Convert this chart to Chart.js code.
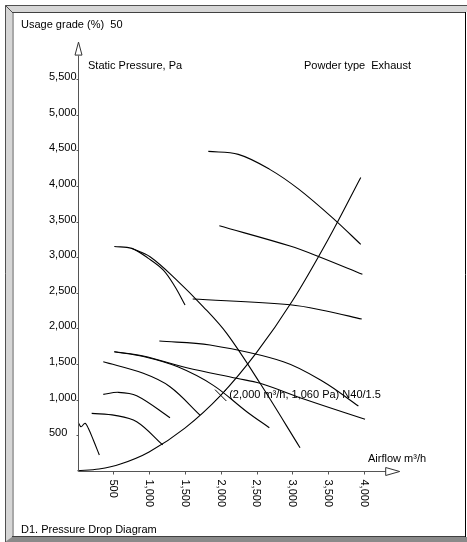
<!DOCTYPE html>
<html>
<head>
<meta charset="utf-8">
<script src="https://cdn.jsdelivr.net/npm/chart.js@4/dist/chart.umd.min.js"></script>
<style>
  html, body { margin: 0; padding: 0; background: #fff; overflow: hidden; }
  canvas { display: block; }
</style>
</head>
<body>
<canvas id="chart" width="467" height="542"></canvas>
<script>
// TICKS
const xTicks = [500, 1000, 1500, 2000, 2500, 3000, 3500, 4000];
const yTicks = [500, 1000, 1500, 2000, 2500, 3000, 3500, 4000, 4500, 5000, 5500];

// FAN CURVES  [airflow m3/h, static pressure Pa]
const curveA = [[1827, 4486], [2246, 4444], [2679, 4237], [3094, 3952], [3597, 3521], [3956, 3180]];
const curveB = [[1981, 3441], [2969, 3156], [3374, 3006], [3979, 2759]];
const curveC = [[1609, 2412], [2969, 2332], [3458, 2248], [3970, 2131]];
const curveD = [[1143, 1822], [1851, 1766], [2875, 1532], [3434, 1251], [3923, 910]];
const curveE = [[514, 1672], [919, 1612], [1526, 1448], [2224, 1299], [2550, 1229], [3202, 994], [4016, 723]];
const curveF = [[514, 1672], [919, 1605], [1400, 1460], [1897, 1200], [2364, 830], [2679, 605]];
const curveG = [[360, 1532], [919, 1369], [1292, 1181], [1711, 783]];
const curveH = [[757, 3124], [1013, 3006], [1386, 2679], [1757, 2304], [2084, 1930], [2550, 1229], [3108, 324]];
const curveL = [[514, 3150], [757, 3124], [989, 2984], [1199, 2819], [1362, 2585], [1502, 2328]];
const curveI = [[360, 1074], [570, 1102], [827, 1054], [1292, 746]];
const curveJ = [[198, 807], [524, 779], [827, 689], [1190, 363]];
const curveK = [[11, 678], [49, 619], [105, 667], [151, 597], [221, 432], [305, 222]];

// SYSTEM CURVE
const systemCurve = [[0, 0], [300, 25], [600, 95], [1000, 265], [1500, 600], [2000, 1060], [2500, 1660], [3000, 2385], [3500, 3250], [3956, 4121]];

// OPERATING POINT
const opPoint = [2000, 1060];
const opLabel = "(2,000 m³/h, 1,060 Pa) N40/1.5";

const FONT = '11px "Liberation Sans", Arial, sans-serif';

function toPts(arr) {
    return arr.map(p => ({ x: p[0], y: p[1] }));
}

const curves = [curveA, curveB, curveC, curveD, curveE, curveF, curveG, curveH, curveL, curveI, curveJ, curveK, systemCurve];

const datasets = curves.map(c => ({
    data: toPts(c),
    showLine: true,
    borderColor: "#000",
    borderWidth: 1.1,
    pointRadius: 0,
    tension: 0.35,
    clip: false
}));

datasets.push({
    data: [{ x: opPoint[0], y: opPoint[1] }],
    showLine: false,
    pointStyle: "crossRot",
    pointRadius: 8,
    borderColor: "#000",
    borderWidth: 1,
    clip: false
});

// FRAME, AXES AND TEXTS
const framePlugin = {
    id: "frame",
    beforeDraw(chart) {
        const ctx = chart.ctx;
        ctx.save();
        ctx.fillStyle = "#fff";
        ctx.fillRect(0, 0, 467, 542);

        // bevel
        ctx.fillStyle = "#d6d6d6";
        ctx.fillRect(5, 5, 462, 7);
        ctx.fillRect(5, 5, 7, 537);
        ctx.fillStyle = "#8a8a8a";
        ctx.beginPath();
        ctx.moveTo(5, 542); ctx.lineTo(12, 537); ctx.lineTo(467, 537); ctx.lineTo(467, 542);
        ctx.closePath();
        ctx.fill();

        ctx.lineWidth = 1;
        ctx.strokeStyle = "#505050";
        ctx.beginPath();
        ctx.moveTo(5.5, 542); ctx.lineTo(5.5, 5.5); ctx.lineTo(467, 5.5);
        ctx.moveTo(5.5, 5.5); ctx.lineTo(12.5, 12.5);
        ctx.stroke();

        ctx.strokeStyle = "#a8a8a8";
        ctx.lineWidth = 2;
        ctx.beginPath();
        ctx.moveTo(13, 537); ctx.lineTo(13, 13);
        ctx.stroke();

        ctx.lineWidth = 1;
        ctx.strokeStyle = "#404040";
        ctx.beginPath();
        ctx.moveTo(12, 12.5); ctx.lineTo(465, 12.5);
        ctx.moveTo(12, 536.5); ctx.lineTo(466, 536.5);
        ctx.stroke();
        ctx.strokeStyle = "#000";
        ctx.beginPath();
        ctx.moveTo(465.5, 12); ctx.lineTo(465.5, 537);
        ctx.stroke();
        ctx.restore();
    },
    afterDraw(chart) {
        const ctx = chart.ctx;
        const xs = chart.scales.x, ys = chart.scales.y;
        const x0 = xs.getPixelForValue(0), y0 = ys.getPixelForValue(0);
        const xEnd = xs.getPixelForValue(4500), yEnd = ys.getPixelForValue(6000);
        const ax = Math.round(x0) + 0.5, ay = Math.round(y0) + 0.5;

        ctx.save();
        ctx.strokeStyle = "#555";
        ctx.lineWidth = 1;

        // axes
        ctx.beginPath();
        ctx.moveTo(ax, yEnd + 12);
        ctx.lineTo(ax, ay);
        ctx.lineTo(xEnd - 14, ay);
        ctx.stroke();

        // arrow heads
        ctx.strokeStyle = "#333";
        ctx.beginPath();
        ctx.moveTo(ax, yEnd - 1.5);
        ctx.lineTo(ax - 3.5, yEnd + 11.5);
        ctx.lineTo(ax + 3.5, yEnd + 11.5);
        ctx.closePath();
        ctx.moveTo(xEnd, ay);
        ctx.lineTo(xEnd - 14, ay - 4);
        ctx.lineTo(xEnd - 14, ay + 4);
        ctx.closePath();
        ctx.stroke();

        // ticks
        ctx.strokeStyle = "#555";
        ctx.beginPath();
        xTicks.forEach(v => {
            const px = Math.round(xs.getPixelForValue(v)) + 0.5;
            ctx.moveTo(px, ay);
            ctx.lineTo(px, ay + 3);
        });
        yTicks.forEach(v => {
            const py = Math.round(ys.getPixelForValue(v)) + 0.5;
            ctx.moveTo(ax - 2, py);
            ctx.lineTo(ax, py);
        });
        ctx.stroke();

        ctx.fillStyle = "#000";
        ctx.font = FONT;

        // y labels (left aligned)
        ctx.textAlign = "left";
        ctx.textBaseline = "alphabetic";
        yTicks.forEach(v => {
            const py = ys.getPixelForValue(v);
            ctx.fillText(v.toLocaleString("en-US"), 49, py + 1);
        });

        // x labels, rotated clockwise
        ctx.textBaseline = "middle";
        xTicks.forEach(v => {
            const px = xs.getPixelForValue(v);
            ctx.save();
            ctx.translate(px, ay + 8);
            ctx.rotate(Math.PI / 2);
            ctx.fillText(v.toLocaleString("en-US"), 0, 0);
            ctx.restore();
        });

        ctx.textBaseline = "alphabetic";
        ctx.fillText("Usage grade (%)  50", 21, 28);
        ctx.fillText("Static Pressure, Pa", 88, 69);
        ctx.fillText("Powder type  Exhaust", 304, 69);
        ctx.fillText("Airflow m³/h", 368, 462);
        ctx.fillText("D1. Pressure Drop Diagram", 21, 533);

        const opx = xs.getPixelForValue(opPoint[0]), opy = ys.getPixelForValue(opPoint[1]);
        ctx.textBaseline = "middle";
        ctx.fillText(opLabel, opx + 8.5, opy);
        ctx.restore();
    }
};

new Chart(document.getElementById("chart"), {
    type: "scatter",
    data: { datasets },
    options: {
        responsive: false,
        animation: false,
        events: [],
        layout: { padding: { left: 77.5, right: 67.3, top: 43.6, bottom: 71.2 } },
        plugins: { legend: { display: false }, tooltip: { enabled: false } },
        scales: {
            x: { type: "linear", min: 0, max: 4500, display: false },
            y: { type: "linear", min: 0, max: 6000, display: false }
        }
    },
    plugins: [framePlugin]
});
</script>
</body>
</html>
